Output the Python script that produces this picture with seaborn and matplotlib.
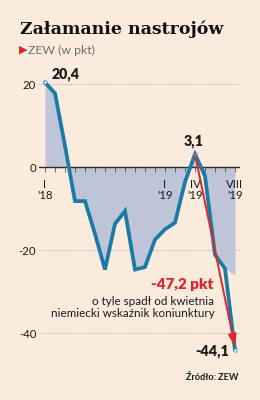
import numpy as np
import pandas as pd
import matplotlib
matplotlib.use("Agg")
import matplotlib.pyplot as plt
import seaborn as sns

# ---- data ----
months = ["I'18", "II'18", "III'18", "IV'18", "V'18", "VI'18", "VII'18", "VIII'18",
          "IX'18", "X'18", "XI'18", "XII'18", "I'19", "II'19", "III'19", "IV'19",
          "V'19", "VI'19", "VII'19", "VIII'19"]
zew = [20.4, 17.8, 5.1, -8.2, -8.2, -16.1, -24.7, -13.7, -10.6, -24.7, -24.1,
       -17.5, -15.0, -13.4, -3.6, 3.1, -2.1, -21.1, -24.5, -44.1]
tick_idx = [0, 12, 15, 19]
tick_labels = ["I\n'18", "I\n'19", "IV\n'19", "VIII\n'19"]
yticks = [20, 0, -20, -40]
ytick_labels = ["20", "0", "-20", "-40"]
title = "Załamanie nastrojów"
subtitle = "ZEW (w pkt)"
drop_label = "-47,2 pkt"
drop_text = "o tyle spadł od kwietnia\nniemiecki wskaźnik koniunktury"
source = "Źródło: ZEW"

df = pd.DataFrame({"x": np.arange(len(zew)), "zew": zew})

BG = "#FBEBDD"
LINE = "#1B7AA6"
FILL = "#BFC5D8"
RED = "#E0252B"
DARK = "#1a1a1a"
GRAY = "#6e6e6e"

sns.set_theme(style="white")
plt.rcParams["font.family"] = ["Lato", "DejaVu Sans"]

fig = plt.figure(figsize=(2.6, 4.0), dpi=100, facecolor=BG)
ax = fig.add_axes([0.15, 0.10, 0.773, 0.725])
ax.set_facecolor(BG)

ax.set_xlim(-0.6, 19.5)
ax.set_ylim(-46.5, 23.4)

# grid lines
for yv in [20, -20, -40]:
    ax.axhline(yv, color="#a8a8a8", lw=0.6, ls=(0, (1, 1)), zorder=1)

# fill
x = df["x"].to_numpy()
fill_floor = -26
ax.fill_between(x, 0, np.maximum(df["zew"].to_numpy(), fill_floor),
                color=FILL, lw=0, zorder=2)

# zero axis
ax.axhline(0, color="#2a2a2a", lw=1.0, zorder=3)

sns.lineplot(data=df, x="x", y="zew", ax=ax, color=LINE, lw=2.7, zorder=4,
             solid_joinstyle="miter")

# end markers
ends = df.iloc[[0, len(df) - 1]]
ax.scatter(ends["x"], ends["zew"], s=6, color="white", edgecolor=LINE,
           linewidth=0.5, zorder=6)

# red arrow from April peak to August
i_apr = 15
i_end = len(zew) - 1
ax.annotate("", xy=(x[i_end], zew[i_end] + 0.8), xytext=(x[i_apr], zew[i_apr]),
            arrowprops=dict(arrowstyle="-|>,head_length=0.6,head_width=0.2",
                            color=RED, lw=1.4, shrinkA=0, shrinkB=0),
            zorder=7)
ax.scatter([x[i_apr]], [zew[i_apr]], s=8, color="#8a6a9a", zorder=8, lw=0)

# axes styling
for s in ax.spines.values():
    s.set_visible(False)
ax.set_xlabel("")
ax.set_ylabel("")
ax.set_yticks(yticks)
ax.set_yticklabels(ytick_labels, fontsize=8.2, color=DARK)
ax.tick_params(axis="y", length=0, pad=2)
ax.set_xticks([])
# month ticks below zero line
ax.vlines(x, -1.2, 0, color="#555555", lw=0.6, zorder=3)
for i, lab in zip(tick_idx, tick_labels):
    ax.text(x[i], -2.9, lab, ha="center", va="top", fontsize=8.2,
            color=DARK, linespacing=0.95, zorder=5)

# value labels
ax.text(x[0] + 0.7, zew[0] + 1.9, "20,4", fontsize=10.3, fontweight="heavy",
        color=DARK, ha="left", va="center", clip_on=False)
ax.text(x[i_apr] - 0.1, 6.3, "3,1", fontsize=10.3, fontweight="heavy",
        color=DARK, ha="center", va="center")
ax.text(x[i_end] - 0.55, zew[i_end] - 0.2, "-44,1", fontsize=10.3,
        fontweight="heavy", color=DARK, ha="right", va="center")
ax.text(16.85, -28.2, drop_label, fontsize=11, fontweight="heavy", color=RED,
        ha="right", va="center")
ax.text(16.95, -33.8, drop_text, fontsize=8.4, color=DARK, ha="right",
        va="center", linespacing=1.05)

# titles
fig.text(20 / 260, 1 - 29 / 400, title, fontsize=12.5, fontweight="bold",
         family="DejaVu Serif", color="#111111", ha="left", va="center")
fig.text(19 / 260, 1 - 50 / 400, "\u25B6", fontsize=8, color=RED,
         family="DejaVu Sans", ha="left", va="center")
fig.text(28 / 260, 1 - 50 / 400, subtitle, fontsize=8.8, color=GRAY,
         ha="left", va="center")
fig.text(239 / 260, 1 - 377 / 400, source, fontsize=6.6, fontweight="bold",
         color=DARK, ha="right", va="center")

fig.savefig("out.png", dpi=100, facecolor=BG)
